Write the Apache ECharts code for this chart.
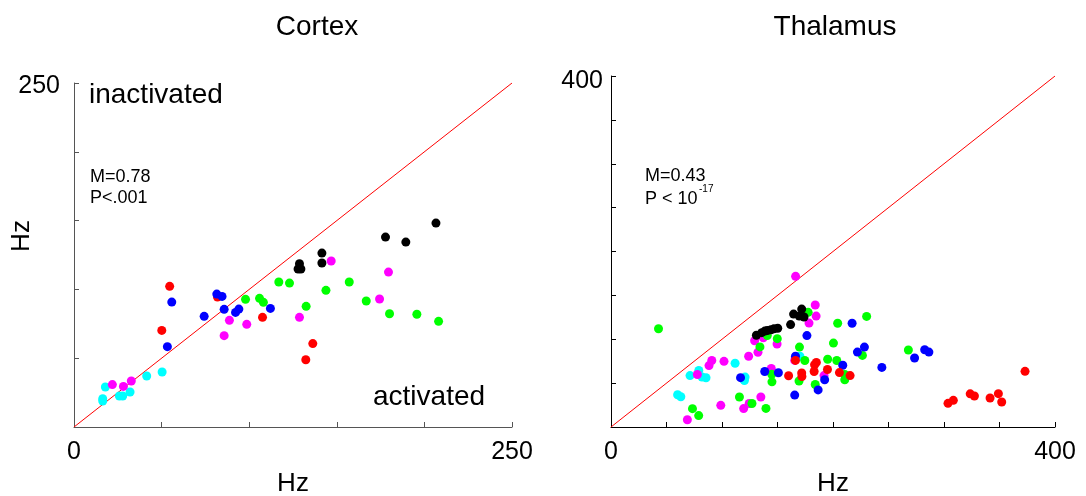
<!DOCTYPE html>
<html>
<head>
<meta charset="utf-8">
<script src="https://cdn.jsdelivr.net/npm/echarts@6/dist/echarts.min.js"></script>
<style>
html,body{margin:0;padding:0;background:#fff;}
#chart{width:1086px;height:496px;}
</style>
</head>
<body>
<div id="chart"></div>
<script>
// ---------- Data ----------
const cortexMax = 250;
const thalamusMax = 400;
const cortexXTickLabels = [0, 250];
const cortexYTickLabels = [250];
const thalamusXTickLabels = [0, 400];
const thalamusYTickLabels = [400];

const cortexCyan = [[17.9,29.1],[16.4,20.6],[16.4,18.9],[25.9,22.5],[27.8,22.5],[32.0,25.4],[41.5,37.1],[50.3,40.0]];
const cortexMagenta = [[21.9,30.8],[28.2,29.5],[32.7,33.4],[85.7,66.4],[88.7,77.5],[98.6,74.6],[128.7,79.7],[146.8,120.6],[179.5,112.6],[174.4,93.0]];
const cortexRed = [[54.6,102.2],[50.1,70.2],[81.9,94.5],[107.6,79.7],[136.3,60.6],[132.3,48.9]];
const cortexBlue = [[55.8,90.8],[53.3,58.4],[74.3,80.4],[81.5,96.6],[84.5,94.9],[85.7,85.5],[92.2,83.3],[94.1,85.7],[112.1,86.2]];
const cortexGreen = [[97.9,92.8],[105.9,93.5],[108.1,90.6],[116.9,105.4],[123.0,104.6],[132.5,87.7],[143.8,99.3],[157.1,105.4],[166.8,91.6],[180.1,82.3],[195.7,81.9],[208.1,76.8]];
const cortexBlack = [[128.7,118.7],[127.9,114.8],[129.5,114.8],[141.5,126.4],[141.5,119.2],[177.8,138.0],[189.4,134.4],[206.6,148.2]];

const thalCyan = [[60,36.8],[62.9,34.5],[71.2,58.6],[79.1,64.5],[82,57],[85.6,56.1],[111.8,72.6],[120.8,56.9],[120.2,53],[170.2,80.6]];
const thalMagenta = [[166.3,171.7],[68.8,8.3],[77.8,59.8],[88.3,70],[90.8,75.8],[98.9,24.7],[101.8,74.8],[119.5,21],[124.5,26.8],[124,80.6],[132.4,85.2],[129.4,98.3],[137.2,101.7],[135,34.2],[144.4,66.7],[149.6,94.6],[165.5,75.9],[178.4,118.4],[184,139],[184.8,126.4],[191.9,58.6]];
const thalRed = [[160,58.4],[166.2,75.9],[171.8,61.5],[172,57.6],[183,63.3],[183.4,71],[185,73.6],[195,65.5],[205.8,62],[215.4,58.6],[303.6,27],[308.4,30.4],[323.6,37.8],[327.4,35.3],[341.5,33],[349,38],[352,28.5],[373,63.4]];
const thalBlue = [[116.7,56.2],[138.5,63.2],[150.8,61.8],[165.5,36.4],[166.2,80.6],[176.5,104.2],[186.6,42.3],[192.5,53.8],[208.8,70.4],[217.2,118.2],[222,85.4],[228.3,91.1],[244,67.9],[273.5,78.6],[282.6,88],[286.4,85.4]];
const thalGreen = [[42.8,112],[73.4,20.9],[79,13],[115.7,34.2],[127,26.8],[139.6,21.2],[134.2,91.3],[140.8,104.2],[149.8,100.7],[144.8,60],[145,51.5],[169.8,91.1],[174.6,75.8],[169.4,52.4],[177.6,130.7],[184,48.4],[195.2,77.2],[200.4,95.6],[203.4,75.8],[204.2,118.2],[210.6,59.8],[210.6,53.8],[226.5,81.6],[230.3,126],[267.9,87.8]];
const thalBlack = [[131,104.6],[135.8,107.5],[138.6,109.3],[140.8,110],[144.1,110.8],[146.8,111.9],[150.2,112.5],[161.8,116.7],[164.5,128.7],[169.6,126.4],[171.8,134.4],[173.9,125.4]];

// ---------- Chart ----------
const FONT = '"Liberation Sans", Arial, Helvetica, sans-serif';
const chart = echarts.init(document.getElementById('chart'), null, {renderer: 'canvas'});

function xAxisDef(grid, max, labels, color) {
  return {
    type: 'value', gridIndex: grid, min: 0, max: max, interval: 50,
    axisLine: {show: true, lineStyle: {color: color, width: 1}},
    axisTick: {show: true, inside: true, length: 5, lineStyle: {color: color, width: 1}},
    splitLine: {show: false},
    axisLabel: {
      show: true, showMinLabel: true, showMaxLabel: true,
      formatter: v => labels.indexOf(v) >= 0 ? String(v) : '',
      fontSize: 25, color: '#000', margin: 13, fontFamily: FONT
    },
    name: 'Hz', nameLocation: 'middle', nameGap: 44, nameMoveOverlap: false,
    nameTextStyle: {fontSize: 26, color: '#000', fontFamily: FONT}
  };
}
function yAxisDef(grid, max, labels, color, withName, margin, lh) {
  const a = {
    type: 'value', gridIndex: grid, min: 0, max: max, interval: 50,
    axisLine: {show: true, lineStyle: {color: color, width: 1}},
    axisTick: {show: true, inside: true, length: 5, lineStyle: {color: color, width: 1}},
    splitLine: {show: false},
    axisLabel: {
      show: true, showMinLabel: true, showMaxLabel: true,
      formatter: v => labels.indexOf(v) >= 0 ? String(v) : '',
      fontSize: 25, color: '#000', margin: margin, fontFamily: FONT,
      verticalAlign: 'top', lineHeight: lh
    }
  };
  if (withName) {
    a.name = 'Hz';
    a.nameLocation = 'middle';
    a.nameGap = 39;
    a.nameMoveOverlap = false;
    a.nameTextStyle = {fontSize: 26, color: '#000', fontFamily: FONT, padding: [0, 0, 0, 38]};
  }
  return a;
}
function scatter(idx, data, color) {
  return {
    type: 'scatter', xAxisIndex: idx, yAxisIndex: idx, data: data,
    symbol: 'circle', symbolSize: 9,
    itemStyle: {color: color, opacity: 1},
    emphasis: {disabled: true}, silent: true
  };
}
function diag(idx, max) {
  return {
    type: 'line', xAxisIndex: idx, yAxisIndex: idx,
    data: [[0, 0], [max, max]], showSymbol: false, symbol: 'none',
    lineStyle: {color: '#ff0000', width: 1}, silent: true, z: 1
  };
}
function txt(x, y, text, size, align) {
  return {
    type: 'text', x: x, y: y, silent: true,
    style: {text: text, fill: '#000', font: size + 'px ' + FONT,
            align: align || 'left', verticalAlign: 'middle'}
  };
}

const option = {
  animation: false,
  backgroundColor: '#fff',
  textStyle: {fontFamily: FONT},
  grid: [
    {left: 74, top: 83, width: 438, height: 344, containLabel: false, outerBoundsMode: 'none'},
    {left: 611, top: 76, width: 444, height: 351, containLabel: false, outerBoundsMode: 'none'}
  ],
  xAxis: [
    xAxisDef(0, cortexMax, cortexXTickLabels, '#555'),
    xAxisDef(1, thalamusMax, thalamusXTickLabels, '#000')
  ],
  yAxis: [
    yAxisDef(0, cortexMax, cortexYTickLabels, '#555', true, 14, 7),
    yAxisDef(1, thalamusMax, thalamusYTickLabels, '#000', false, 8, 10)
  ],
  series: [
    diag(0, cortexMax),
    scatter(0, cortexCyan, '#00ffff'),
    scatter(0, cortexMagenta, '#ff00ff'),
    scatter(0, cortexRed, '#ff0000'),
    scatter(0, cortexBlue, '#0000ff'),
    scatter(0, cortexGreen, '#00ff00'),
    scatter(0, cortexBlack, '#000000'),
    diag(1, thalamusMax),
    scatter(1, thalCyan, '#00ffff'),
    scatter(1, thalMagenta, '#ff00ff'),
    scatter(1, thalGreen, '#00ff00'),
    scatter(1, thalBlue, '#0000ff'),
    scatter(1, thalRed, '#ff0000'),
    scatter(1, thalBlack, '#000000')
  ],
  graphic: [
    txt(317, 27, 'Cortex', 28, 'center'),
    txt(835, 27, 'Thalamus', 28, 'center'),
    txt(89, 95, 'inactivated', 28),
    txt(373, 397, 'activated', 28),
    txt(90, 177, 'M=0.78', 18),
    txt(90, 198, 'P<.001', 18),
    txt(645, 176, 'M=0.43', 18),
    txt(645, 199, 'P < 10', 18),
    txt(699, 189, '-17', 10)
  ]
};
chart.setOption(option);
</script>
</body>
</html>
